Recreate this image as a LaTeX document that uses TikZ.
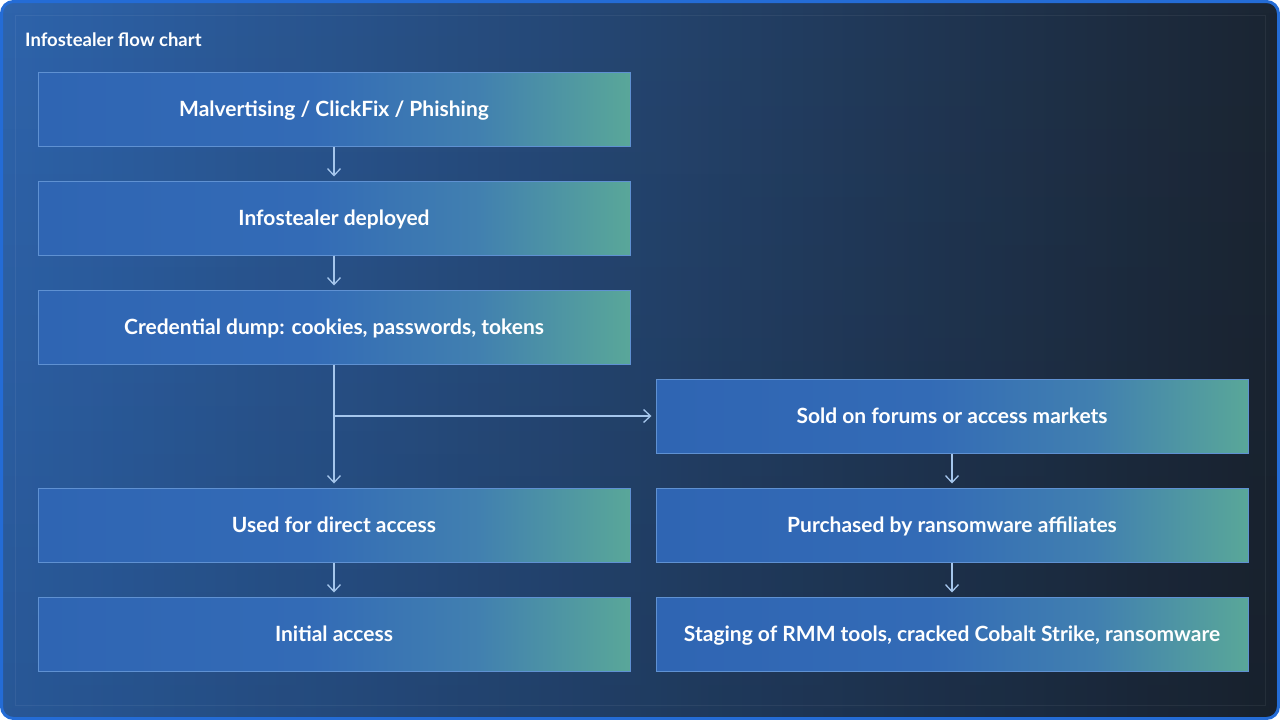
\documentclass[tikz,border=0pt]{standalone}
\usepackage{fontspec}
\setmainfont{Lato}
\usetikzlibrary{arrows.meta,fadings}
\definecolor{bgL}{RGB}{46,100,172}
\definecolor{bgM}{RGB}{34,68,112}
\definecolor{bgR}{RGB}{27,37,50}
\definecolor{frame}{RGB}{36,108,214}
\definecolor{boxline}{RGB}{95,145,210}
\definecolor{arr}{RGB}{165,198,236}
\pgfdeclarehorizontalshading{boxshade}{100bp}{%
  rgb(0bp)=(0.184,0.396,0.702);
  rgb(25bp)=(0.184,0.396,0.702);
  rgb(48bp)=(0.200,0.420,0.715);
  rgb(62bp)=(0.255,0.500,0.690);
  rgb(75bp)=(0.350,0.655,0.600);
  rgb(100bp)=(0.350,0.655,0.600)}
\tikzset{
  x=1pt, y=-1pt,
  stepbox/.style={rectangle, shading=boxshade, draw=boxline, line width=1pt,
    minimum width=592pt, minimum height=74pt, inner sep=0pt,
    text height=15pt, text depth=0pt,
    text=white, font=\fontsize{21}{24}\selectfont\bfseries},
  flow/.style={draw=arr, line width=1.3pt, -{Straight Barb[length=7pt,width=13pt,line width=1.3pt]}},
}
\begin{document}
\begin{tikzpicture}
\useasboundingbox (0,0) rectangle (1280,720);
% background
\shade[rounded corners=12pt, left color=bgL, middle color=bgM, right color=bgR]
  (1.5,1.5) rectangle (1278.5,718.5);
\fill[black, opacity=0.12, path fading=north, rounded corners=12pt] (1.5,1.5) rectangle (1278.5,718.5);
\draw[frame, line width=3pt, rounded corners=12pt] (1.5,1.5) rectangle (1278.5,718.5);
\draw[white, opacity=0.06, line width=1pt] (15,15) rectangle (1265,705);
% title
\node[anchor=base west, text=white, font=\fontsize{18.5}{21}\selectfont\bfseries, inner sep=0pt]
  (title) at (25,46) {Infostealer flow chart};
% boxes
\node[stepbox] (b1) at (334,109) {Malvertising / ClickFix / Phishing};
\node[stepbox] (b2) at (334,218) {Infostealer deployed};
\node[stepbox] (b3) at (334,327) {Credential dump: cookies, passwords, tokens};
\node[stepbox] (b4) at (952,416) {Sold on forums or access markets};
\node[stepbox] (b5) at (334,525) {Used for direct access};
\node[stepbox] (b6) at (952,525) {Purchased by ransomware affiliates};
\node[stepbox] (b7) at (334,634) {Initial access};
\node[stepbox] (b8) at (952,634) {Staging of RMM tools, cracked Cobalt Strike, ransomware};
% connectors
\coordinate (split) at (b3.south |- b4.west);
\draw[flow, shorten >=4pt] (b1) -- (b2);
\draw[flow, shorten >=4pt] (b2) -- (b3);
\draw[flow, shorten >=4pt] (b3) -- (b5);
\draw[flow, shorten >=4pt] (split) -- (b4);
\draw[flow, shorten >=4pt] (b4) -- (b6);
\draw[flow, shorten >=4pt] (b6) -- (b8);
\draw[flow, shorten >=4pt] (b5) -- (b7);
\end{tikzpicture}
\end{document}
